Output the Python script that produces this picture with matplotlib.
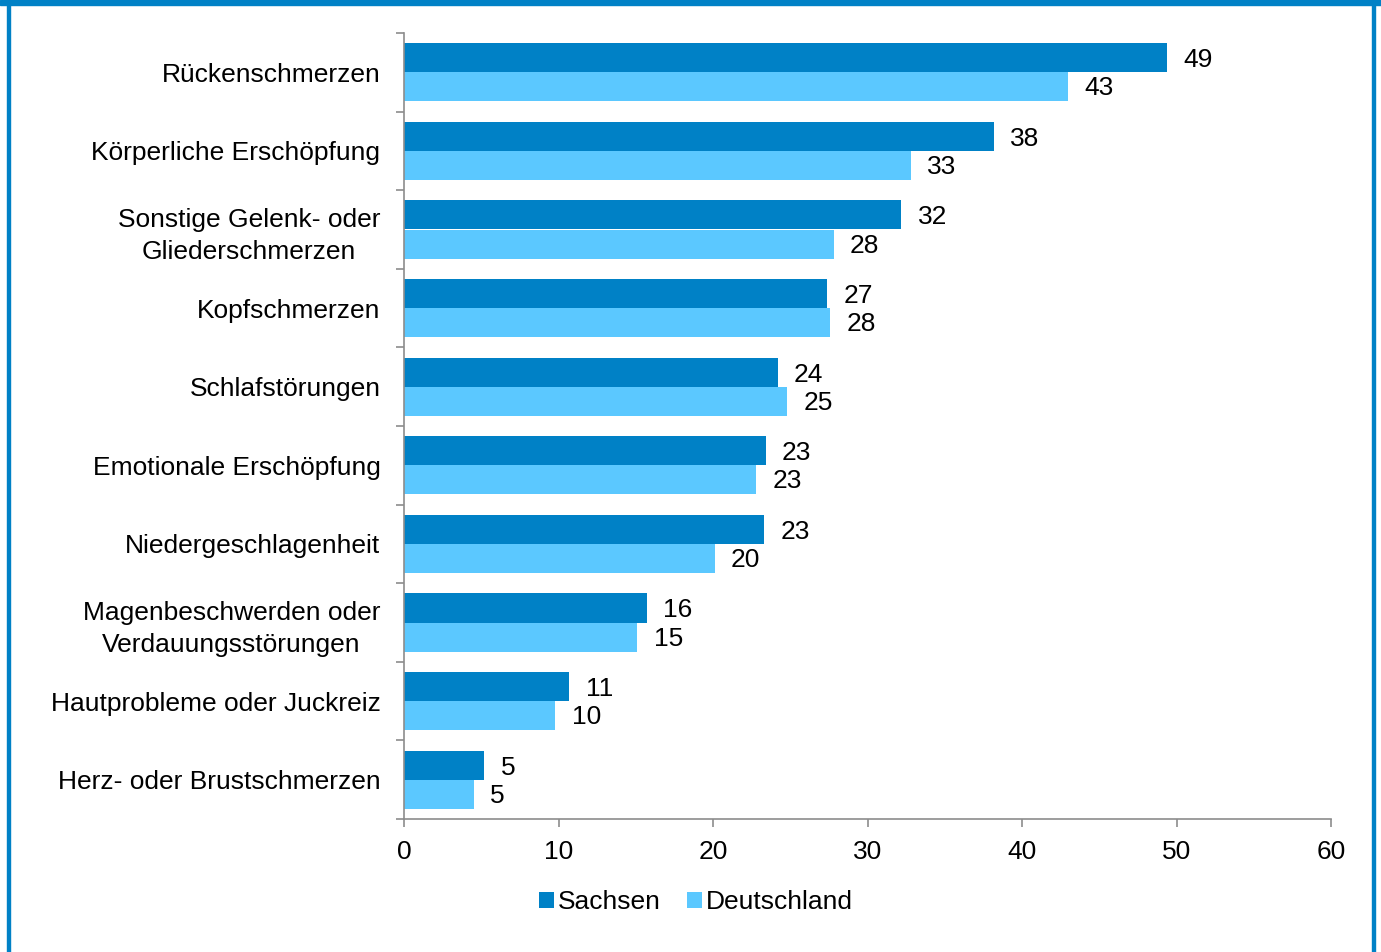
import matplotlib
matplotlib.use("Agg")
import matplotlib.pyplot as plt
import numpy as np
from matplotlib.patches import Rectangle

plt.rcParams['font.family'] = ['Liberation Sans', 'DejaVu Sans']

categories = [
    "Rückenschmerzen",
    "Körperliche Erschöpfung",
    "Sonstige Gelenk- oder\nGliederschmerzen",
    "Kopfschmerzen",
    "Schlafstörungen",
    "Emotionale Erschöpfung",
    "Niedergeschlagenheit",
    "Magenbeschwerden oder\nVerdauungsstörungen",
    "Hautprobleme oder Juckreiz",
    "Herz- oder Brustschmerzen",
]
sachsen = [49.4, 38.2, 32.2, 27.4, 24.2, 23.4, 23.3, 15.7, 10.7, 5.2]
deutschland = [43.0, 32.8, 27.8, 27.6, 24.8, 22.8, 20.1, 15.1, 9.8, 4.5]
sachsen_labels = ["49", "38", "32", "27", "24", "23", "23", "16", "11", "5"]
deutschland_labels = ["43", "33", "28", "28", "25", "23", "20", "15", "10", "5"]
series_names = ["Sachsen", "Deutschland"]
xticks = [0, 10, 20, 30, 40, 50, 60]

c_s = "#0081C6"
c_d = "#5BC8FF"
gray = "#8C8C8C"

fig = plt.figure(figsize=(13.81, 9.52), dpi=100)
ax = fig.add_axes([404/1381, 1 - 819/952, (1331-404)/1381, (819-33)/952])

n = len(categories)
y = np.arange(n)
h = 0.37
ax.barh(y - h/2, sachsen, height=h, color=c_s, label=series_names[0])
ax.barh(y + h/2, deutschland, height=h, color=c_d, label=series_names[1])

fs = 19
for i in range(n):
    ax.text(sachsen[i] + 1.05, y[i] - h/2 + 0.03, sachsen_labels[i], va='center', ha='left', fontsize=fs)
    ax.text(deutschland[i] + 1.05, y[i] + h/2 + 0.02, deutschland_labels[i], va='center', ha='left', fontsize=fs)

ax.set_ylim(n - 0.5, -0.5)
ax.set_xlim(0, 60)
ax.set_xticks(xticks)
ax.set_xticklabels([str(t) for t in xticks], fontsize=fs)
ax.set_yticks(np.arange(n + 1) - 0.5)
ax.set_yticklabels([])
ax.set_yticks(y, minor=True)
ax.set_yticklabels(categories, minor=True, fontsize=fs, multialignment='center')
for lbl in ax.get_yticklabels(minor=True):
    lbl.set_linespacing(1.4)
ax.tick_params(axis='y', which='minor', length=0, pad=17)
ax.tick_params(axis='y', which='major', length=6, color=gray, width=1.2)
ax.tick_params(axis='x', length=6, color=gray, width=1.2, pad=9)

for s in ['top', 'right']:
    ax.spines[s].set_visible(False)
for s in ['left', 'bottom']:
    ax.spines[s].set_color(gray)
    ax.spines[s].set_linewidth(1.2)

leg = fig.legend(loc='center', bbox_to_anchor=(696/1381, 1 - 902/952), ncol=2, frameon=False,
                 fontsize=fs, handlelength=0.55, handleheight=0.55, handletextpad=0.15, columnspacing=1.0)

# frame border
fig.patches.append(Rectangle((0, 1 - 5/952), 1, 5/952, transform=fig.transFigure, color=c_s, zorder=0))
fig.patches.append(Rectangle((7/1381, 0), 3/1381, 1, transform=fig.transFigure, color=c_s, zorder=0))
fig.patches.append(Rectangle((1372/1381, 0), 3/1381, 1, transform=fig.transFigure, color=c_s, zorder=0))

fig.savefig("out.png", dpi=100)
